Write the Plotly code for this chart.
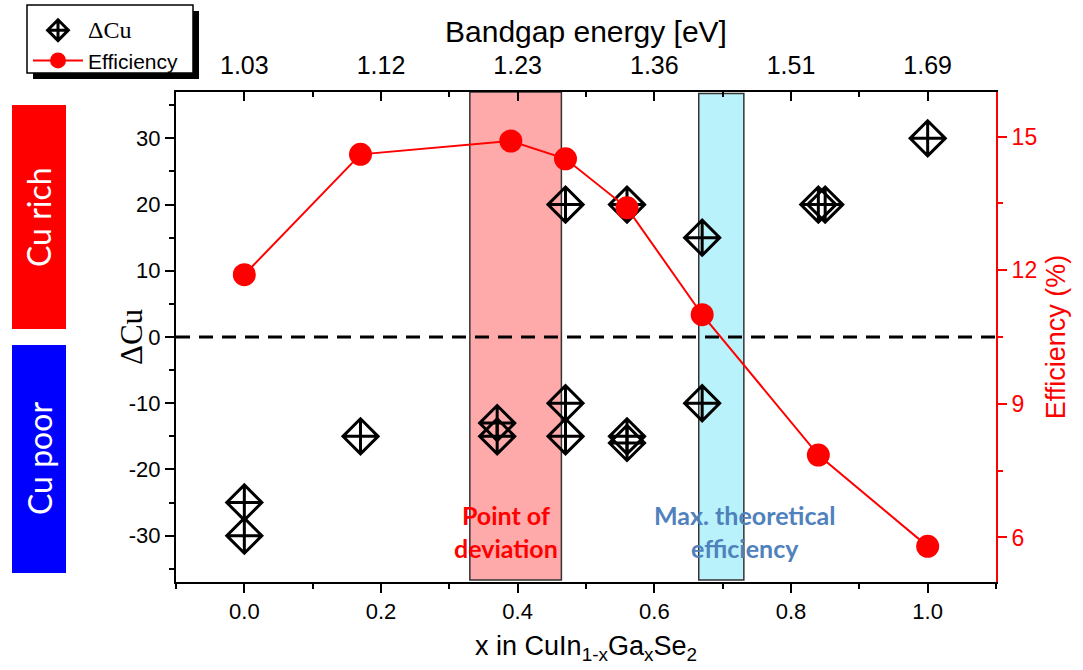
import plotly.graph_objects as go

# ---- data ----
x_dcu = [0.0, 0.0, 0.17, 0.37, 0.37, 0.47, 0.47, 0.47, 0.56, 0.56, 0.56, 0.67, 0.67, 0.84, 0.85, 1.0]
dcu = [-25, -30, -15, -13, -15, 20, -10, -15, 20, -15, -16, 15, -10, 20, 20, 30]

x_eff = [0.0, 0.17, 0.39, 0.47, 0.56, 0.67, 0.84, 1.0]
eff = [11.9, 14.6, 14.9, 14.5, 13.4, 11.0, 7.85, 5.8]

top_tickvals = [0.0, 0.2, 0.4, 0.6, 0.8, 1.0]
top_ticktext = ["1.03", "1.12", "1.23", "1.36", "1.51", "1.69"]

left_tickvals = [-30, -20, -10, 0, 10, 20, 30]
left_ticktext = ["-30", "-20", "-10", "0", "10", "20", "30"]

deviation_band = [0.33, 0.464]
max_eff_band = [0.665, 0.731]

AX = "Liberation Sans, Arial, sans-serif"
CAL = "Lato, Carlito, Calibri, sans-serif"
SERIF = "Liberation Serif, Times New Roman, serif"

L, R, T, B = 176, 87, 92, 88
PW, PH = 1083 - L - R, 670 - T - B


def px(xp):
    return (xp - L) / PW


def py(yp):
    return (670 - B - yp) / PH


fig = go.Figure()

fig.add_trace(go.Scatter(
    x=x_dcu, y=dcu, mode="markers",
    name='<span style="font-family:Liberation Serif, Times New Roman, serif;font-size:24px">ΔCu</span>',
    marker=dict(symbol="diamond-cross-open", size=27, color="black", line=dict(width=3, color="black")),
    xaxis="x", yaxis="y",
))
fig.add_trace(go.Scatter(
    x=x_eff, y=eff, mode="lines+markers", name="Efficiency",
    line=dict(color="#FF0000", width=2),
    marker=dict(symbol="circle", size=23, color="#FF0000"),
    xaxis="x2", yaxis="y2",
))

shapes = [
    # legend shadow and box
    dict(type="rect", xref="paper", yref="paper", x0=px(33), x1=px(199), y0=py(79), y1=py(11),
         fillcolor="black", line=dict(width=0), layer="above"),
    dict(type="rect", xref="paper", yref="paper", x0=px(27), x1=px(193), y0=py(73), y1=py(5),
         fillcolor="white", line=dict(color="black", width=1.5), layer="above"),
    # side boxes
    dict(type="rect", xref="paper", yref="paper", x0=px(12), x1=px(66), y0=py(329), y1=py(105),
         fillcolor="#FF0000", line=dict(width=0), layer="below"),
    dict(type="rect", xref="paper", yref="paper", x0=px(12), x1=px(66), y0=py(573), y1=py(345),
         fillcolor="#0000FF", line=dict(width=0), layer="below"),
    # bands
    dict(type="rect", xref="x", yref="paper", x0=deviation_band[0], x1=deviation_band[1], y0=0.004, y1=1.0,
         fillcolor="#FFAAAA", line=dict(color="#333333", width=1.5), layer="below"),
    dict(type="rect", xref="x", yref="paper", x0=max_eff_band[0], x1=max_eff_band[1], y0=0.004, y1=0.997,
         fillcolor="#B9F2FA", line=dict(color="#333333", width=1.5), layer="below"),
    # zero line
    dict(type="line", xref="paper", yref="y", x0=0, x1=1, y0=0, y1=0,
         line=dict(color="black", width=3, dash="14px,9px"), layer="below"),
]

annotations = [
    dict(text="Point of<br>deviation", x=0.383, y=-29.4, xref="x", yref="y", showarrow=False,
         xanchor="center", yanchor="middle",
         font=dict(family=CAL, size=25, color="#FF0000", weight="bold")),
    dict(text="Max. theoretical<br>efficiency", x=0.732, y=-29.4, xref="x", yref="y", showarrow=False,
         xanchor="center", yanchor="middle",
         font=dict(family=CAL, size=25, color="#4F81BD", weight="bold")),
    dict(text="Cu rich", x=px(39), y=py(217), xref="paper", yref="paper", xanchor="center", yanchor="middle",
         showarrow=False, textangle=-90, font=dict(family=CAL, size=32, color="white")),
    dict(text="Cu poor", x=px(39), y=py(459), xref="paper", yref="paper", xanchor="center", yanchor="middle",
         showarrow=False, textangle=-90, font=dict(family=CAL, size=32, color="white")),
    # left axis title (overlaps the tick-label column as in the original)
    dict(text="ΔCu", x=px(131), y=py(337), xref="paper", yref="paper", xanchor="center", yanchor="middle",
         showarrow=False, textangle=-90, font=dict(family=SERIF, size=31, color="black")),
]

fig.update_layout(
    width=1083, height=670,
    margin=dict(l=L, r=R, t=T, b=B, autoexpand=False),
    paper_bgcolor="white", plot_bgcolor="white",
    font=dict(family=AX, size=21, color="black"),
    showlegend=True,
    legend=dict(x=px(28), y=py(10), xanchor="left", yanchor="top",
                bgcolor="rgba(0,0,0,0)", borderwidth=0, itemwidth=50,
                font=dict(family=AX, size=21, color="black"), tracegroupgap=0),
    shapes=shapes,
    annotations=annotations,
    xaxis=dict(
        range=[-0.1, 1.1], tickmode="linear", tick0=0, dtick=0.2, tickformat=".1f",
        ticks="outside", ticklen=9, tickwidth=1.5, tickcolor="black",
        minor=dict(ticks="outside", ticklen=5, tickwidth=1.5, tickcolor="black", dtick=0.1, tick0=0),
        showline=True, linecolor="black", linewidth=2, showgrid=False, zeroline=False,
        tickfont=dict(family=AX, size=22),
        title=dict(text="x in CuIn<sub>1-x</sub>Ga<sub>x</sub>Se<sub>2</sub>", font=dict(family=AX, size=27), standoff=13),
    ),
    xaxis2=dict(
        range=[-0.1, 1.1], overlaying="x", side="top", anchor="y",
        tickmode="array", tickvals=top_tickvals, ticktext=top_ticktext,
        ticks="inside", ticklen=9, tickwidth=1.5, tickcolor="black", ticklabelstandoff=6,
        minor=dict(ticks="inside", ticklen=5, tickwidth=1.5, tickcolor="black", tickmode="linear", dtick=0.1, tick0=0),
        showline=True, linecolor="black", linewidth=2, showgrid=False, zeroline=False,
        tickfont=dict(family=AX, size=25),
        title=dict(text="Bandgap energy [eV]", font=dict(family=AX, size=30), standoff=0),
    ),
    yaxis=dict(
        range=[-37, 37], tickmode="array", tickvals=left_tickvals, ticktext=left_ticktext,
        ticks="outside", ticklen=9, tickwidth=1.5, tickcolor="black",
        minor=dict(ticks="outside", ticklen=5, tickwidth=1.5, tickcolor="black", tickmode="linear", dtick=5, tick0=0),
        showline=True, linecolor="black", linewidth=2, showgrid=False, zeroline=False,
        tickfont=dict(family=AX, size=22),
    ),
    yaxis2=dict(
        range=[5, 16], overlaying="y", side="right", anchor="x",
        tickmode="linear", tick0=0, dtick=3,
        ticks="outside", ticklen=9, tickwidth=1.5, tickcolor="#FF0000",
        minor=dict(ticks="outside", ticklen=5, tickwidth=1.5, tickcolor="#FF0000", dtick=1.5, tick0=0),
        showline=True, linecolor="#FF0000", linewidth=2, showgrid=False, zeroline=False,
        tickfont=dict(family=AX, size=23, color="#FF0000"),
        title=dict(text="Efficiency (%)", font=dict(family=AX, size=27, color="#FF0000"), standoff=10),
    ),
)

fig.write_html("out.html", config={"displayModeBar": False},
               post_script="document.body.style.margin='0';")
